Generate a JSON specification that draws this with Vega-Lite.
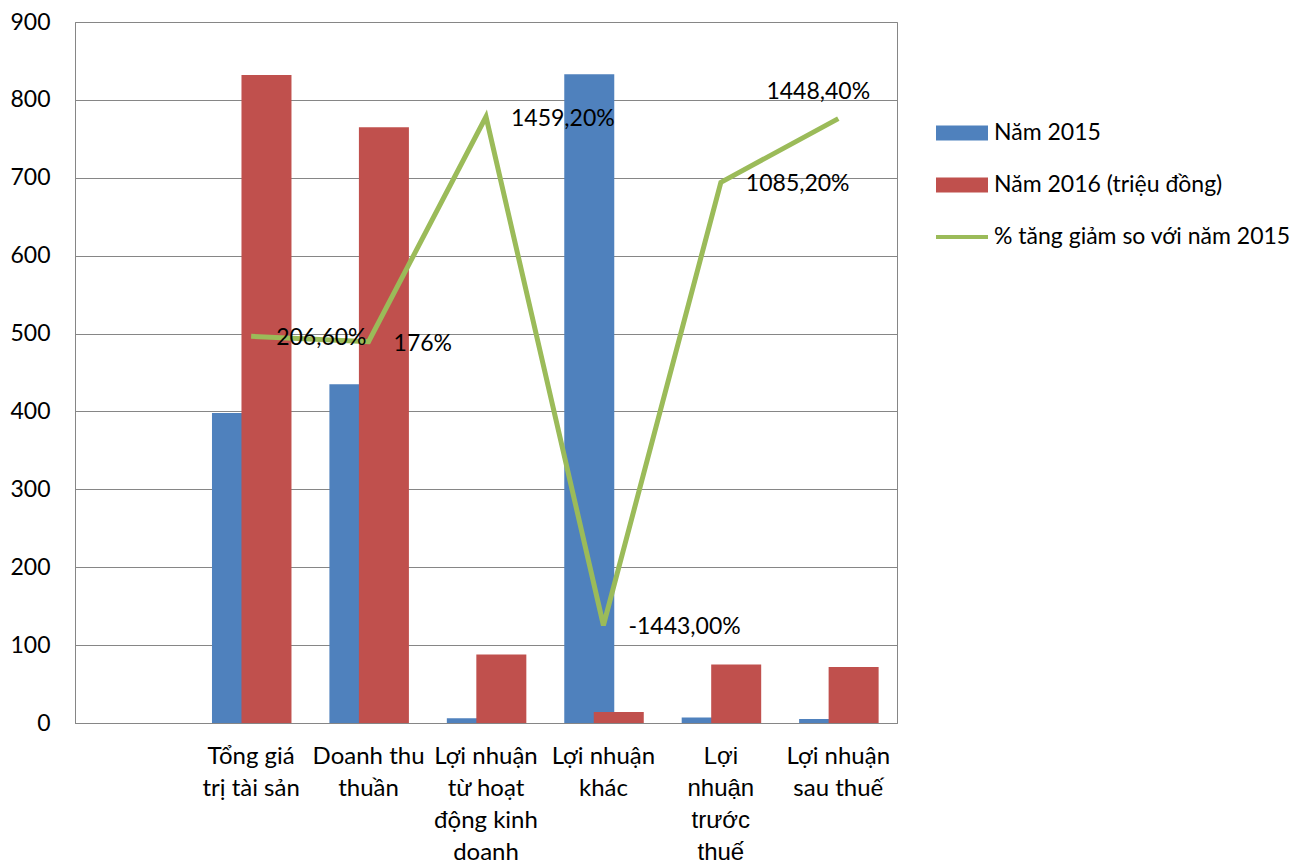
{
  "$schema": "https://vega.github.io/schema/vega-lite/v6.json",
  "width": 822,
  "height": 701,
  "autosize": "none",
  "padding": {"left": 75, "top": 22, "right": 414, "bottom": 142},
  "background": "white",
  "config": {"view": {"stroke": "#868686", "strokeWidth": 1}, "font": "Lato"},
  "datasets": {
    "bars": [
      {"category": "Tổng giá trị tài sản", "series": "Năm 2015", "value": 398},
      {"category": "Doanh thu thuần", "series": "Năm 2015", "value": 435},
      {"category": "Lợi nhuận từ hoạt động kinh doanh", "series": "Năm 2015", "value": 6},
      {"category": "Lợi nhuận khác", "series": "Năm 2015", "value": 833},
      {"category": "Lợi nhuận trước thuế", "series": "Năm 2015", "value": 7},
      {"category": "Lợi nhuận sau thuế", "series": "Năm 2015", "value": 5},
      {"category": "Tổng giá trị tài sản", "series": "Năm 2016 (triệu đồng)", "value": 832},
      {"category": "Doanh thu thuần", "series": "Năm 2016 (triệu đồng)", "value": 765},
      {"category": "Lợi nhuận từ hoạt động kinh doanh", "series": "Năm 2016 (triệu đồng)", "value": 88},
      {"category": "Lợi nhuận khác", "series": "Năm 2016 (triệu đồng)", "value": 14},
      {"category": "Lợi nhuận trước thuế", "series": "Năm 2016 (triệu đồng)", "value": 75},
      {"category": "Lợi nhuận sau thuế", "series": "Năm 2016 (triệu đồng)", "value": 72}
    ],
    "pct": [
      {"category": "Tổng giá trị tài sản", "series": "% tăng giảm so với năm 2015", "value": 206.6, "label": "206,60%"},
      {"category": "Doanh thu thuần", "series": "% tăng giảm so với năm 2015", "value": 176, "label": "176%"},
      {"category": "Lợi nhuận từ hoạt động kinh doanh", "series": "% tăng giảm so với năm 2015", "value": 1459.2, "label": "1459,20%"},
      {"category": "Lợi nhuận khác", "series": "% tăng giảm so với năm 2015", "value": -1443, "label": "-1443,00%"},
      {"category": "Lợi nhuận trước thuế", "series": "% tăng giảm so với năm 2015", "value": 1085.2, "label": "1085,20%"},
      {"category": "Lợi nhuận sau thuế", "series": "% tăng giảm so với năm 2015", "value": 1448.4, "label": "1448,40%"}
    ]
  },
  "layer": [
    {
      "data": {"name": "bars"},
      "mark": {"type": "bar", "width": 50},
      "encoding": {
        "x": {
          "field": "category",
          "type": "nominal",
          "sort": null,
          "scale": {
            "domain": ["", "Tổng giá trị tài sản", "Doanh thu thuần", "Lợi nhuận từ hoạt động kinh doanh", "Lợi nhuận khác", "Lợi nhuận trước thuế", "Lợi nhuận sau thuế"],
            "paddingInner": 0,
            "paddingOuter": 0
          },
          "axis": {
            "title": null,
            "ticks": false,
            "domainColor": "#868686",
            "labelAngle": 0,
            "labelColor": "black",
            "labelFont": {"condition": {"test": "datum.value === 'Lợi nhuận trước thuế'", "value": "Liberation Sans"}, "value": "Lato"},
            "labelFontSize": 24,
            "labelPadding": 21,
            "labelLineHeight": 32,
            "labelOverlap": false,
            "labelBound": false,
            "labelLimit": 0,
            "labelExpr": "datum.value === 'Tổng giá trị tài sản' ? ['Tổng giá', 'trị tài sản'] : datum.value === 'Doanh thu thuần' ? ['Doanh thu', 'thuần'] : datum.value === 'Lợi nhuận từ hoạt động kinh doanh' ? ['Lợi nhuận', 'từ hoạt', 'động kinh', 'doanh'] : datum.value === 'Lợi nhuận khác' ? ['Lợi nhuận', 'khác'] : datum.value === 'Lợi nhuận trước thuế' ? ['Lợi', 'nhuận', 'trước', 'thuế'] : datum.value === 'Lợi nhuận sau thuế' ? ['Lợi nhuận', 'sau thuế'] : datum.label"
          }
        },
        "xOffset": {
          "field": "series",
          "type": "nominal",
          "scale": {"domain": ["Năm 2015", "Năm 2016 (triệu đồng)"], "range": [29.8, 88.8]}
        },
        "y": {
          "field": "value",
          "type": "quantitative",
          "scale": {"domain": [0, 900], "nice": false},
          "axis": {
            "title": null,
            "values": [0, 100, 200, 300, 400, 500, 600, 700, 800, 900],
            "grid": true,
            "gridColor": "#868686",
            "domainColor": "#868686",
            "ticks": false,
            "labelPadding": 25,
            "labelFont": "Lato",
            "labelFontSize": 23,
            "labelColor": "black"
          }
        },
        "color": {
          "field": "series",
          "type": "nominal",
          "scale": {
            "domain": ["Năm 2015", "Năm 2016 (triệu đồng)", "% tăng giảm so với năm 2015"],
            "range": ["#4F81BD", "#C0504D", "#9BBB59"]
          },
          "legend": {
            "title": null,
            "orient": "none",
            "legendX": 861,
            "legendY": 85,
            "padding": 0,
            "rowPadding": 14,
            "labelFont": "Lato",
            "labelFontSize": 23,
            "labelColor": "black",
            "labelOffset": 6,
            "labelLimit": 400,
            "symbolSize": 2704,
            "symbolType": "M-1,-0.29H1V0.29H-1Z",
            "symbolStrokeWidth": 0,
            "symbolOpacity": 1,
            "encode": {
              "symbols": {
                "update": {
                  "shape": {"signal": "datum.value === '% tăng giảm so với năm 2015' ? 'M-1,-0.077H1V0.077H-1Z' : 'M-1,-0.29H1V0.29H-1Z'"},
                  "fill": {"scale": "color", "field": "value"},
                  "stroke": {"value": "transparent"},
                  "opacity": {"value": 1}
                }
              }
            }
          }
        }
      }
    },
    {
      "data": {"name": "pct"},
      "encoding": {
        "x": {"field": "category", "type": "nominal", "sort": null},
        "y": {"field": "value", "type": "quantitative", "scale": {"domain": [-2000, 2000], "nice": false}, "axis": null}
      },
      "layer": [
        {
          "mark": {"type": "line", "strokeWidth": 5},
          "encoding": {
            "color": {"field": "series", "type": "nominal"},
            "order": {"value": null}
          }
        },
        {
          "transform": [{"filter": "datum.category !== 'Lợi nhuận sau thuế'"}],
          "mark": {"type": "text", "align": "left", "baseline": "middle", "dx": 25, "dy": 2, "fontSize": 23, "font": "Lato", "color": "black"},
          "encoding": {"text": {"field": "label", "type": "nominal"}}
        },
        {
          "transform": [{"filter": "datum.category === 'Lợi nhuận sau thuế'"}],
          "mark": {"type": "text", "align": "center", "baseline": "middle", "dx": -20, "dy": -27, "fontSize": 23, "font": "Lato", "color": "black"},
          "encoding": {"text": {"field": "label", "type": "nominal"}}
        }
      ]
    }
  ],
  "resolve": {"scale": {"y": "independent"}}
}
